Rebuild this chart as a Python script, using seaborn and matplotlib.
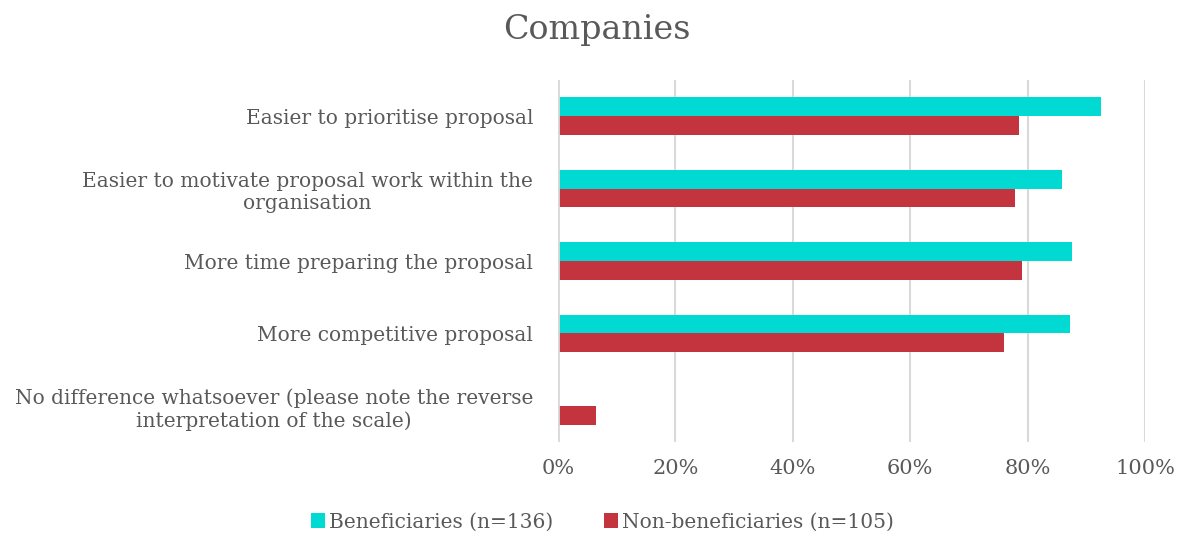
import numpy as np
import pandas as pd
import matplotlib
matplotlib.use("Agg")
import matplotlib.pyplot as plt
import seaborn as sns
from matplotlib.ticker import PercentFormatter

# Data
categories = [
    "Easier to prioritise proposal",
    "Easier to motivate proposal work within the\norganisation",
    "More time preparing the proposal",
    "More competitive proposal",
    "No difference whatsoever (please note the reverse\ninterpretation of the scale)",
]
beneficiaries = [92.5, 85.8, 87.5, 87.3, 0.0]
non_beneficiaries = [78.5, 77.9, 79.0, 76.0, 6.5]
series_names = ["Beneficiaries (n=136)", "Non-beneficiaries (n=105)"]
colors = ["#00DAD3", "#C3343F"]

df = pd.DataFrame({
    "category": categories * 2,
    "value": beneficiaries + non_beneficiaries,
    "series": [series_names[0]] * len(categories) + [series_names[1]] * len(categories),
})

sns.set_theme(style="white")
plt.rcParams["font.family"] = ["DejaVu Serif"]
text_color = "#595959"
grid_color = "#D9D9D9"

fig = plt.figure(figsize=(11.81, 5.41), dpi=100)
ax = fig.add_axes([0.4725, 0.183, 0.4970, 0.669])

sns.barplot(data=df, x="value", y="category", hue="series", orient="h",
            palette=colors, width=0.52, saturation=1, linewidth=0,
            ax=ax, legend=True)

ax.set_xlim(0, 100)
ax.set_xticks(np.arange(0, 101, 20))
ax.xaxis.set_major_formatter(PercentFormatter(decimals=0))
ax.grid(axis="x", color=grid_color, linewidth=1.5)
ax.axvline(0, color=grid_color, linewidth=2, zorder=3)
ax.set_axisbelow(True)
for s in ax.spines.values():
    s.set_visible(False)
ax.tick_params(axis="x", length=0, pad=12, labelsize=15, labelcolor=text_color)
ax.tick_params(axis="y", length=0, pad=18, labelsize=14.5, labelcolor=text_color)
for lab in ax.get_yticklabels():
    lab.set_multialignment("center")
ax.set_xlabel("")
ax.set_ylabel("")

fig.suptitle("Companies", x=0.505, y=0.975, fontsize=24, color=text_color)

handles, labels = ax.get_legend_handles_labels()
ax.legend_.remove()
fig.legend(handles, labels, loc="center", bbox_to_anchor=(0.51, 0.035), ncol=2,
           frameon=False, fontsize=14.5, labelcolor=text_color, handlelength=0.7,
           handleheight=0.7, handletextpad=0.2, columnspacing=2.5)

fig.savefig("out.png", dpi=100)
